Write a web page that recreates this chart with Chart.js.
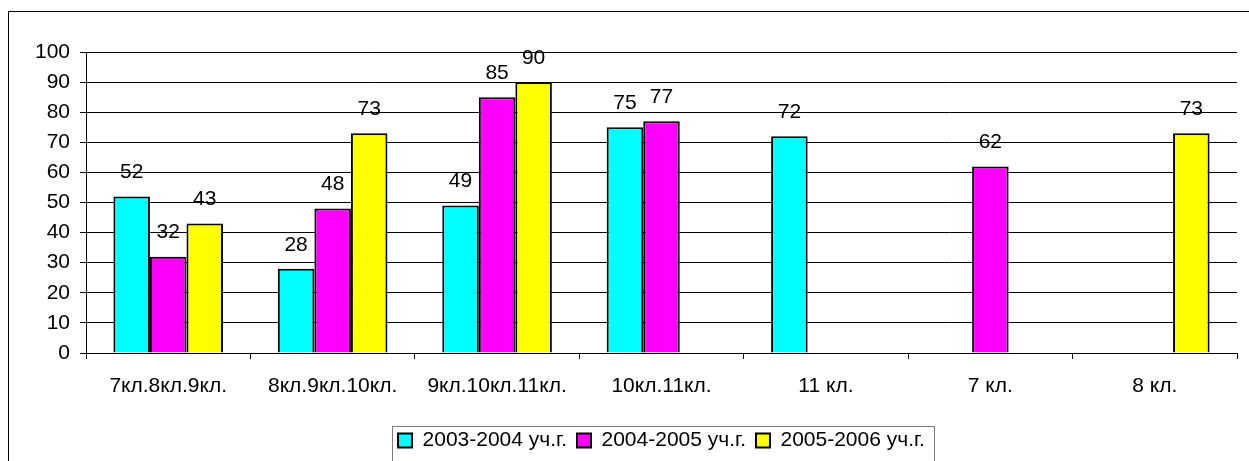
<!DOCTYPE html>
<html>
<head>
<meta charset="utf-8">
<script src="https://cdn.jsdelivr.net/npm/chart.js@4/dist/chart.umd.min.js"></script>
<style>
  html, body { margin: 0; padding: 0; background: #fff; }
  #wrap { width: 1249px; height: 461px; }
</style>
</head>
<body>
<div id="wrap"><canvas id="chart"></canvas></div>
<script>
// Categories and values
const categories = ['7кл.8кл.9кл.', '8кл.9кл.10кл.', '9кл.10кл.11кл.', '10кл.11кл.', '11 кл.', '7 кл.', '8 кл.'];
const seriesNames = ['2003-2004 уч.г.', '2004-2005 уч.г.', '2005-2006 уч.г.'];
const year2003 = [52, 28, 49, 75, 72, null, null];
const year2004 = [32, 48, 85, 77, null, 62, null];
const year2005 = [43, 73, 90, null, null, null, 73];
const seriesColors = ['#00FFFF', '#FF00FF', '#FFFF00'];

const FONT = 'Liberation Sans, Arial, sans-serif';

// Outer frame, bar value labels and the legend box
const decorPlugin = {
    id: 'decor',
    beforeDraw(chart) {
        const ctx = chart.ctx;
        ctx.save();
        ctx.fillStyle = '#fff';
        ctx.fillRect(0, 0, chart.width, chart.height);
        ctx.strokeStyle = '#000';
        ctx.lineWidth = 1;
        ctx.strokeRect(8.5, 11.5, 3000, 3000);
        ctx.restore();
    },
    afterDatasetsDraw(chart) {
        const ctx = chart.ctx;
        ctx.save();
        ctx.font = '21px ' + FONT;
        ctx.fillStyle = '#000';
        ctx.textAlign = 'center';
        ctx.textBaseline = 'middle';
        chart.data.datasets.forEach((ds, i) => {
            chart.getDatasetMeta(i).data.forEach((bar, j) => {
                const v = ds.data[j];
                if (v === null || v === undefined) return;
                ctx.fillText(String(v), bar.x, bar.y - 24);
            });
        });
        ctx.restore();
    },
    afterDraw(chart) {
        const boxes = chart.legend && chart.legend.legendHitBoxes;
        if (!boxes || !boxes.length) return;
        const ctx = chart.ctx;
        const left = Math.min(...boxes.map(b => b.left)) - 6;
        const right = Math.max(...boxes.map(b => b.left + b.width)) + 9;
        const top = boxes[0].top - 4;
        ctx.save();
        ctx.strokeStyle = '#7a7a7a';
        ctx.lineWidth = 1;
        ctx.strokeRect(Math.round(left) + 0.5, Math.round(top) + 0.5, Math.round(right - left), 200);
        ctx.restore();
    }
};

new Chart(document.getElementById('chart').getContext('2d'), {
    type: 'bar',
    data: {
        labels: categories,
        datasets: [year2003, year2004, year2005].map((d, i) => ({
            label: seriesNames[i],
            data: d,
            backgroundColor: seriesColors[i],
            borderColor: '#000',
            borderWidth: 2,
            borderSkipped: 'bottom',
            barPercentage: 1,
            categoryPercentage: 3 / 4.5
        }))
    },
    options: {
        responsive: true,
        maintainAspectRatio: false,
        animation: false,
        layout: { padding: { top: 52, left: 0, right: 12, bottom: 0 } },
        plugins: {
            legend: {
                position: 'bottom',
                fullSize: false,
                labels: {
                    font: { family: FONT, size: 21 },
                    color: '#000',
                    boxWidth: 14,
                    boxHeight: 14,
                    padding: 10
                }
            },
            tooltip: { enabled: false }
        },
        scales: {
            x: {
                afterFit: s => { s.height = 67; },
                grid: { drawOnChartArea: false, drawTicks: true, tickLength: 6, color: '#000' },
                border: { color: '#000', width: 1 },
                ticks: { font: { family: FONT, size: 21 }, color: '#000', padding: 15, maxRotation: 0, autoSkip: false }
            },
            y: {
                min: 0,
                max: 100,
                afterFit: s => { s.width = 86; },
                grid: { color: '#000', tickLength: 6 },
                border: { color: '#000', width: 1 },
                ticks: { stepSize: 10, font: { family: FONT, size: 21 }, color: '#000', padding: 10 }
            }
        }
    },
    plugins: [decorPlugin]
});
</script>
</body>
</html>
